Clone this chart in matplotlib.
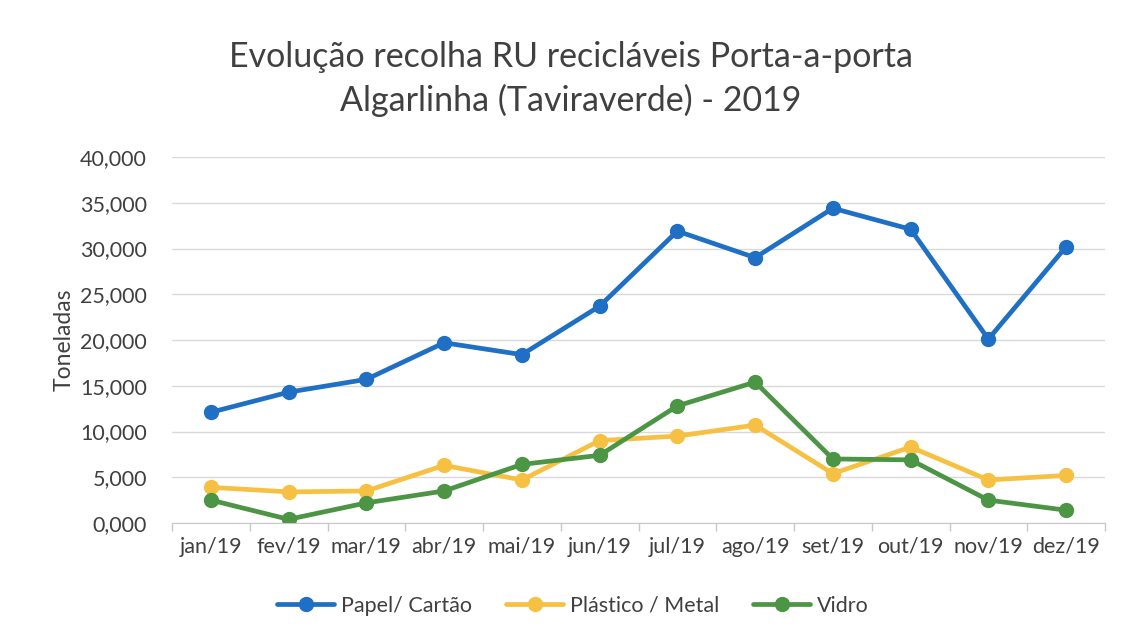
import matplotlib
matplotlib.use("Agg")
import matplotlib.pyplot as plt
from matplotlib.ticker import FixedLocator, NullFormatter

months = ["jan/19", "fev/19", "mar/19", "abr/19", "mai/19", "jun/19",
          "jul/19", "ago/19", "set/19", "out/19", "nov/19", "dez/19"]
papel = [12.1, 14.3, 15.7, 19.7, 18.4, 23.7, 31.9, 29.0, 34.4, 32.1, 20.1, 30.2]
plastico = [3.9, 3.4, 3.5, 6.3, 4.7, 9.0, 9.5, 10.7, 5.4, 8.3, 4.7, 5.2]
vidro = [2.5, 0.4, 2.2, 3.5, 6.4, 7.4, 12.8, 15.4, 7.0, 6.9, 2.5, 1.4]
yticks = [0, 5, 10, 15, 20, 25, 30, 35, 40]
ytick_labels = ["0,000", "5,000", "10,000", "15,000", "20,000", "25,000",
                "30,000", "35,000", "40,000"]
series_names = ["Papel/ Cartão", "Plástico / Metal", "Vidro"]
colors = ["#1f6fc4", "#f6c143", "#4c9544"]

plt.rcParams['font.family'] = ['Lato', 'DejaVu Sans']

fig = plt.figure(figsize=(11.21, 6.39), dpi=100)
ax = fig.add_axes([172/1121, 1-523/639, (1105-172)/1121, (523-157)/639])

x = list(range(len(months)))
for vals, name, c in zip([papel, plastico, vidro], series_names, colors):
    ax.plot(x, vals, color=c, lw=3.4, marker='o', markersize=10, label=name,
            solid_capstyle='round')

ax.set_xlim(-0.5, len(months) - 0.5)
ax.set_ylim(0, 40)
ax.set_yticks(yticks)
ax.set_yticklabels(ytick_labels, fontsize=15.5, color="#404040")
ax.set_xticks(x)
ax.set_xticklabels(months, fontsize=15.5, color="#404040")
ax.tick_params(axis='x', which='major', length=0, pad=10)
ax.xaxis.set_minor_locator(FixedLocator([i - 0.5 for i in range(len(months) + 1)]))
ax.xaxis.set_minor_formatter(NullFormatter())
ax.tick_params(axis='x', which='minor', length=6, color="#c8c8c8", width=1)
ax.tick_params(axis='y', length=0, pad=18)
ax.grid(axis='y', color="#d9d9d9", lw=1)
ax.set_axisbelow(True)
for s in ["top", "right", "left"]:
    ax.spines[s].set_visible(False)
ax.spines["bottom"].set_color("#c8c8c8")
ax.set_ylabel("Toneladas", fontsize=16.5, color="#404040", labelpad=4)

fig.text(0.509, 1-79/639, "Evolução recolha RU recicláveis Porta-a-porta\nAlgarlinha (Taviraverde) - 2019",
         ha='center', va='center', fontsize=24.5, color="#404040", linespacing=1.38)

fig.legend(loc='center', bbox_to_anchor=(0.511, 1-606/639), ncol=3, frameon=False,
           fontsize=15.5, handlelength=2.65, columnspacing=1.6, handletextpad=0.3,
           labelcolor="#404040")

fig.savefig("out.png", dpi=100)
